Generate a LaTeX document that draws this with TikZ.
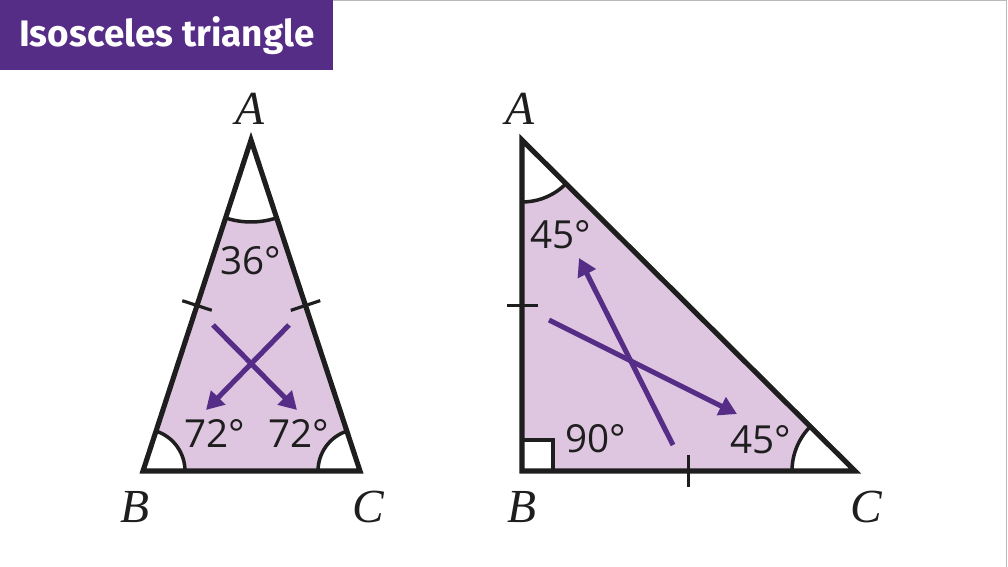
\documentclass[tikz,border=0pt]{standalone}
\usepackage{fontspec}
\setsansfont{Fira Sans}
\newfontfamily\vertexfont{Liberation Serif}
\newfontfamily\degfont{Open Sans}
\usetikzlibrary{angles,calc,arrows.meta}
\definecolor{bbcpurple}{HTML}{552D87}
\definecolor{lilac}{HTML}{DFC6E0}
\definecolor{ink}{HTML}{1E1E1E}
\tikzset{
    side/.style={draw=ink, line width=2.9pt, line join=miter},
    tickmark/.style={draw=ink, line width=1.8pt},
    anglemark/.style={draw=ink, fill=white, line width=2pt},
    flow/.style={draw=bbcpurple, line width=2.9pt, -{Triangle[length=10pt,width=11pt]}},
    vertex/.style={font=\vertexfont\itshape\fontsize{27}{30}\selectfont, text=ink},
    deg/.style={font=\degfont\fontsize{22}{25}\selectfont, text=ink, inner sep=0pt},
}
\begin{document}
\begin{tikzpicture}[x=0.02cm, y=-0.02cm]
        \useasboundingbox (0,0) rectangle (1008,567);
        \draw[gray!55, line width=1pt] (0,0.5) -- (1006.5,0.5) -- (1006.5,567);
        \node[fill=bbcpurple, text=white, font=\sffamily\bfseries\fontsize{21}{24}\selectfont,
              anchor=north west, minimum width=6.66cm, minimum height=1.4cm, inner sep=0pt]
              (title) at (0,0) {Isosceles triangle};

        % triangulo izquierdo
        \coordinate (A1) at (251,140);
        \coordinate (B1) at (143,471);
        \coordinate (C1) at (360,471);
        \fill[lilac] (A1) -- (B1) -- (C1) -- cycle;
        \pic[anglemark, angle radius=1.64cm] {angle=B1--A1--C1};
        \pic[anglemark, angle radius=0.84cm] {angle=C1--B1--A1};
        \pic[anglemark, angle radius=0.84cm] {angle=A1--C1--B1};
        \draw[side] (A1) -- (B1) -- (C1) -- cycle;
        \coordinate (mAB1) at ($(A1)!0.5!(B1)$);
        \coordinate (mAC1) at ($(A1)!0.5!(C1)$);
        \draw[tickmark] ($(mAB1)!0.31cm!90:(B1)$) -- ($(mAB1)!0.31cm!-90:(B1)$);
        \draw[tickmark] ($(mAC1)!0.31cm!90:(C1)$) -- ($(mAC1)!0.31cm!-90:(C1)$);

        \node[vertex] (lA) at (250,109) {A};
        \node[vertex] (lB) at (135,507) {B};
        \node[vertex] (lC) at (368,507) {C};
        \node[deg] (d36) at (251,261) {36°};
        \node[deg] (d72b) at (215,434) {72°};
        \node[deg] (d72c) at (299,434) {72°};

        \coordinate (s1) at (289,325);
        \coordinate (t1) at (206,410);
        \coordinate (s2) at (213,325);
        \coordinate (t2) at (297,410);
        \draw[flow] (s1) -- (t1);  % hacia B
        \draw[flow] (s2) -- (t2);  % hacia C

        % triangulo rectangulo
        \coordinate (A2) at (522,140);
        \coordinate (B2) at (522,471);
        \coordinate (C2) at (855,471);
        \fill[lilac] (A2) -- (B2) -- (C2) -- cycle;
        \pic[anglemark, angle radius=1.24cm] {angle=B2--A2--C2};
        \pic[anglemark, angle radius=1.26cm] {angle=A2--C2--B2};
        \pic[anglemark, angle radius=0.62cm] {right angle=C2--B2--A2};
        \draw[side] (A2) -- (B2) -- (C2) -- cycle;
        \coordinate (mAB2) at ($(A2)!0.5!(B2)$);
        \coordinate (mBC2) at ($(B2)!0.5!(C2)$);
        \draw[tickmark] ($(mAB2)!0.31cm!90:(B2)$) -- ($(mAB2)!0.31cm!-90:(B2)$);
        \draw[tickmark] ($(mBC2)!0.32cm!90:(C2)$) -- ($(mBC2)!0.32cm!-90:(C2)$);

        \node[vertex] (rA) at (520,109) {A};
        \node[vertex] (rB) at (522,507) {B};
        \node[vertex] (rC) at (866,507) {C};
        \node[deg] (d45a) at (561,235) {45°};
        \node[deg] (d90) at (596,439) {90°};
        \node[deg] (d45c) at (761,440) {45°};

        \coordinate (s3) at (673,445);
        \coordinate (t3) at (579,258);
        \coordinate (s4) at (549,320);
        \coordinate (t4) at (737,414);
        \draw[flow] (s3) -- (t3);
        \draw[flow] (s4) -- (t4);
    \end{tikzpicture}
\end{document}
